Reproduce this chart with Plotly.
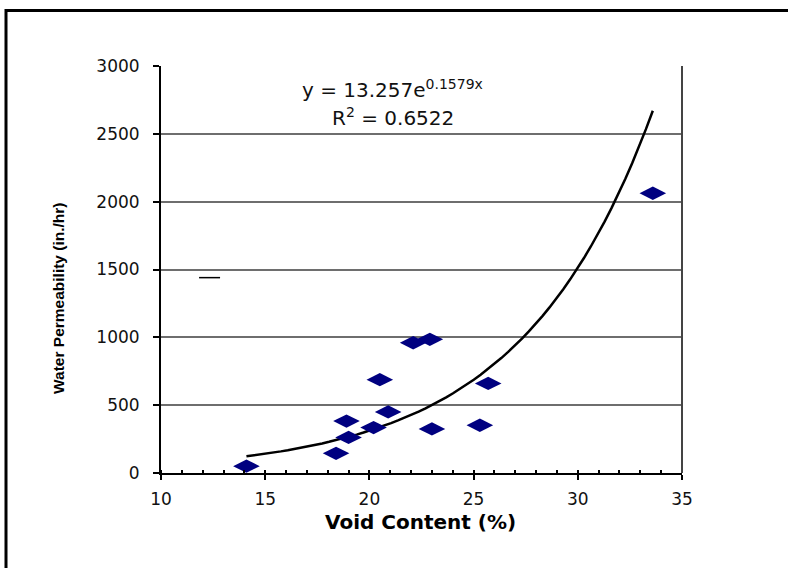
import numpy as np
import plotly.graph_objects as go

# --- data ---
void_content = [14.1, 18.4, 18.9, 19.0, 20.2, 20.5, 20.9, 22.1, 22.9, 23.0, 25.3, 25.7, 33.6]
permeability = [50, 145, 383, 262, 335, 688, 450, 960, 985, 325, 352, 660, 2062]

trend_a = 13.257
trend_b = 0.1579
trend_x_range = [14.1, 33.6]

stray_x = [12.33]
stray_y = [1440]

x_ticks = [10, 15, 20, 25, 30, 35]
y_ticks = [0, 500, 1000, 1500, 2000, 2500, 3000]

eq_text = "y = 13.257e<sup>0.1579x</sup>"
r2_text = "R<sup>2</sup> = 0.6522"
x_title = "Void Content (%)"
y_title = "Water Permeability (in./hr)"

# --- figure ---
W, H = 788, 568
ML, MR, MT, MB = 161, 106, 66, 95
PW, PH = W - ML - MR, H - MT - MB

def px_x(p):
    return (p - ML) / PW

def px_y(p):
    return (H - MB - p) / PH

tx = np.linspace(trend_x_range[0], trend_x_range[1], 60)
ty = trend_a * np.exp(trend_b * tx)

fig = go.Figure()
fig.add_trace(go.Scatter(x=tx, y=ty, mode="lines",
                         line=dict(color="black", width=2.5), hoverinfo="skip"))
fig.add_trace(go.Scatter(x=void_content, y=permeability, mode="markers",
                         marker=dict(symbol="diamond-wide", size=19, color="#000080",
                                     line=dict(width=0))))
fig.add_trace(go.Scatter(x=stray_x, y=stray_y, mode="markers",
                         marker=dict(symbol="line-ew", size=15,
                                     line=dict(color="black", width=1.5))))

tickfont = dict(family="DejaVu Sans", size=17, color="#111111")

fig.update_layout(
    width=W, height=H,
    margin=dict(l=ML, r=MR, t=MT, b=MB),
    paper_bgcolor="white", plot_bgcolor="white",
    showlegend=False,
    xaxis=dict(range=[10, 35], tickvals=x_ticks, ticks="outside", ticklen=5,
               tickwidth=2, tickcolor="black", showgrid=False, zeroline=False,
               showline=True, linecolor="black", linewidth=2,
               tickfont=tickfont, ticklabelstandoff=5,
               minor=dict(dtick=1, ticks="inside", ticklen=3, tickwidth=2,
                          tickcolor="black", showgrid=False)),
    yaxis=dict(range=[0, 3000], tickvals=y_ticks, ticks="outside", ticklen=6,
               tickwidth=2, tickcolor="black", showgrid=True, gridcolor="#6e6e6e",
               gridwidth=1.5, zeroline=False, showline=True, linecolor="black",
               linewidth=2, tickfont=tickfont, ticklabelstandoff=10),
    shapes=[
        dict(type="line", xref="paper", yref="paper", x0=1, x1=1, y0=0, y1=1,
             line=dict(color="#444444", width=2)),
        dict(type="rect", xref="paper", yref="paper",
             x0=px_x(6), x1=px_x(W + 20), y0=px_y(H + 20), y1=px_y(10.5),
             line=dict(color="black", width=3)),
    ],
    annotations=[
        dict(text=eq_text, xref="paper", yref="paper", x=px_x(392), y=px_y(89),
             xanchor="center", yanchor="middle", showarrow=False,
             font=dict(family="DejaVu Sans", size=20, color="#111111")),
        dict(text=r2_text, xref="paper", yref="paper", x=px_x(393), y=px_y(117),
             xanchor="center", yanchor="middle", showarrow=False,
             font=dict(family="DejaVu Sans", size=20, color="#111111")),
        dict(text="<b>" + x_title + "</b>", xref="paper", yref="paper",
             x=px_x(420), y=px_y(522), xanchor="center", yanchor="middle",
             showarrow=False,
             font=dict(family="DejaVu Sans", size=20, color="black")),
        dict(text="<b>" + y_title + "</b>", xref="paper", yref="paper",
             x=px_x(58), y=px_y(298), xanchor="center", yanchor="middle",
             showarrow=False, textangle=-90,
             font=dict(family="Liberation Sans Narrow, Arial Narrow, Liberation Sans",
                       size=15.5, color="black")),
    ],
)

fig.write_html("out.html")
